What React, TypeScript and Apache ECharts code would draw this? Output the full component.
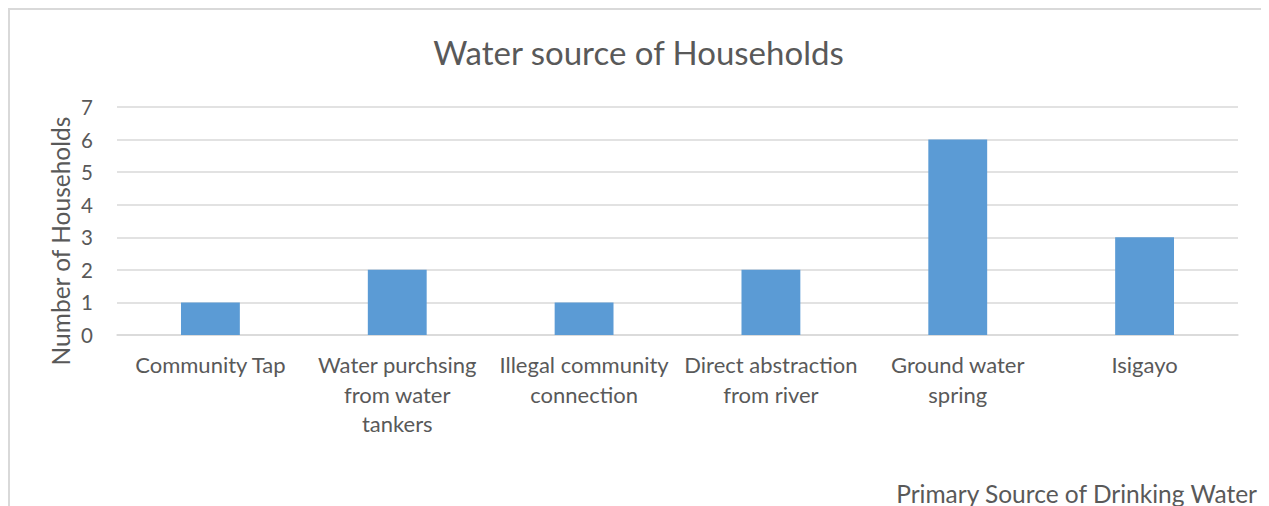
import React, { useEffect, useRef } from "react";
import * as echarts from "echarts";

const categories = [
  "Community Tap",
  "Water purchsing\nfrom water\ntankers",
  "Illegal community\nconnection",
  "Direct abstraction\nfrom river",
  "Ground water\nspring",
  "Isigayo",
];
const households = [1, 2, 1, 2, 6, 3];
const yTicks = { min: 0, max: 7, interval: 1 };

const titleText = "Water source of Households";
const yAxisTitle = "Number of Households";
const xAxisTitle = "Primary Source of Drinking Water";

const FONT = "Lato, 'Open Sans', sans-serif";
const TEXT = "#595959";
const GRID = "#d9d9d9";
const BAR = "#5b9bd5";

export default function App() {
  const ref = useRef<HTMLDivElement>(null);

  useEffect(() => {
    if (!ref.current) return;
    const chart = echarts.init(ref.current, undefined, { renderer: "svg" });
    chart.setOption({
      animation: false,
      backgroundColor: "#ffffff",
      textStyle: { fontFamily: FONT },
      title: {
        text: titleText,
        left: "center",
        top: 22,
        textStyle: { fontFamily: FONT, fontSize: 33, fontWeight: "normal", color: TEXT },
      },
      grid: { left: 109, right: 31, top: 99, bottom: 171, containLabel: false },
      xAxis: {
        type: "category",
        data: categories,
        axisLine: { show: true, lineStyle: { color: GRID, width: 1.5 } },
        axisTick: { show: false },
        axisLabel: {
          color: TEXT,
          fontFamily: FONT,
          fontSize: 22,
          lineHeight: 29.5,
          margin: 15,
          interval: 0,
        },
      },
      yAxis: {
        type: "value",
        min: yTicks.min,
        max: yTicks.max,
        interval: yTicks.interval,
        axisLine: { show: false },
        axisTick: { show: false },
        splitLine: { lineStyle: { color: GRID, width: 1.5 } },
        axisLabel: { color: TEXT, fontFamily: FONT, fontSize: 20.5, margin: 24 },
      },
      series: [
        {
          type: "bar",
          data: households,
          barWidth: "31.5%",
          itemStyle: { color: BAR },
        },
      ],
      graphic: [
        {
          type: "rect",
          shape: { x: 1, y: 1, width: 1258, height: 620 },
          style: { fill: "none", stroke: GRID, lineWidth: 2 },
          silent: true,
        },
        {
          type: "text",
          x: 52,
          y: 233,
          rotation: Math.PI / 2,
          style: {
            text: yAxisTitle,
            fill: TEXT,
            font: `24.5px ${FONT}`,
            align: "center",
            verticalAlign: "middle",
          },
        },
        {
          type: "text",
          x: 1249,
          y: 485,
          style: {
            text: xAxisTitle,
            fill: TEXT,
            font: `24.5px ${FONT}`,
            align: "right",
            verticalAlign: "middle",
          },
        },
      ],
    });
    return () => chart.dispose();
  }, []);

  return <div ref={ref} style={{ width: 1261, height: 498 }} />;
}
